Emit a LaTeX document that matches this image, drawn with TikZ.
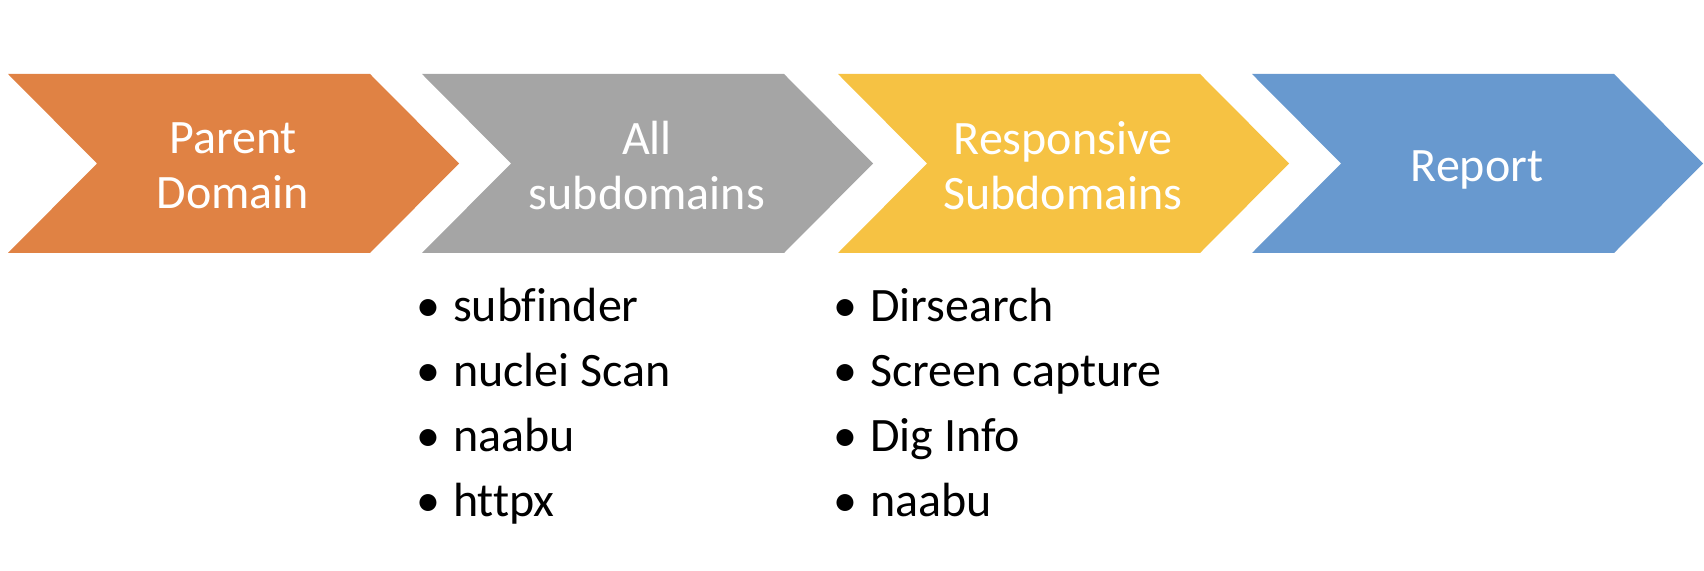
\documentclass[tikz,border=0pt]{standalone}
\usepackage{fontspec}
\setmainfont{Carlito}[Ligatures=NoCommon]
\definecolor{chevOrange}{HTML}{E08244}
\definecolor{chevGray}{HTML}{A5A5A5}
\definecolor{chevYellow}{HTML}{F6C243}
\definecolor{chevBlue}{HTML}{6899CF}
\tikzset{
  steplabel/.style={text=white, align=center, inner sep=0pt, font=\fontsize{48}{55}\selectfont},
  tool/.style={anchor=base west, inner sep=0pt, font=\fontsize{48}{58}\selectfont}
}

\begin{document}
\begin{tikzpicture}[x=1pt,y=1pt]
            \useasboundingbox (0,0) rectangle (1704,570);
            \foreach \xl/\yc/\col/\nm/\txt in {8/404/chevOrange/parent/{Parent\\Domain},422/404/chevGray/all/{All\\subdomains},838/404/chevYellow/resp/{Responsive\\Subdomains},1252/400/chevBlue/report/{Report}}
            {
                \fill[\col] (\xl,496) -- (\xl+362,496) -- (\xl+451,406.5) -- (\xl+362,317) -- (\xl,317) -- (\xl+89,406.5) -- cycle;
                \node[steplabel] (\nm) at (\xl+225,\yc) {\txt};
            }
            \foreach \t [count=\i] in {subfinder,nuclei Scan,naabu,httpx}
                \node[tool] (all-tool\i) at (416,248-65*\i+65) {\makebox[37pt][l]{•}\t};
            \foreach \t [count=\i] in {Dirsearch,Screen capture,Dig Info,naabu}
                \node[tool] (resp-tool\i) at (833,248-65*\i+65) {\makebox[37pt][l]{•}\t};
        \end{tikzpicture}
\end{document}
